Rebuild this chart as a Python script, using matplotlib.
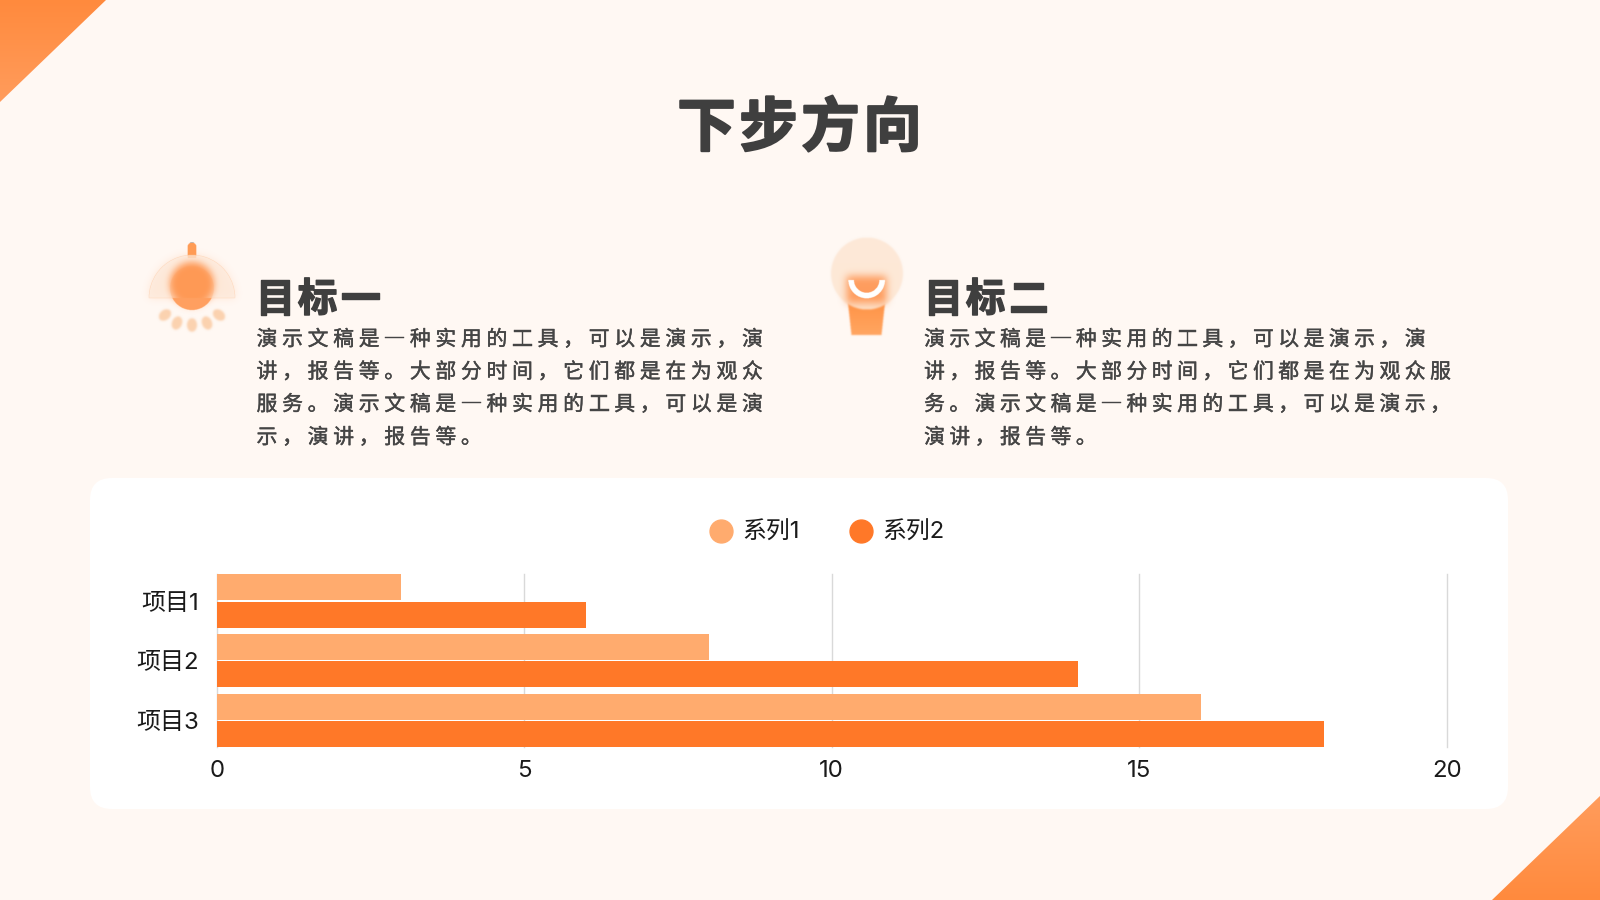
import numpy as np
import matplotlib
matplotlib.use('Agg')
import matplotlib.pyplot as plt
import matplotlib.patheffects as pe
from matplotlib.lines import Line2D
from matplotlib.patches import FancyBboxPatch, Polygon

plt.rcParams['font.family'] = ['Noto Sans CJK SC', 'DejaVu Sans']

# datos del grafico
categories = ['项目1', '项目2', '项目3']
series1 = [3, 8, 16]
series2 = [6, 14, 18]
series_names = ['系列1', '系列2']
x_ticks = [0, 5, 10, 15, 20]

title = '下步方向'
head1 = '目标一'
head2 = '目标二'
lines1 = ['演示文稿是一种实用的工具，可以是演示，演',
          '讲，报告等。大部分时间，它们都是在为观众',
          '服务。演示文稿是一种实用的工具，可以是演',
          '示，演讲，报告等。']
lines2 = ['演示文稿是一种实用的工具，可以是演示，演',
          '讲，报告等。大部分时间，它们都是在为观众服',
          '务。演示文稿是一种实用的工具，可以是演示，',
          '演讲，报告等。']

BG = '#FFF8F3'
C1 = '#FFAB6E'
C2 = '#FF7828'
DARK = '#3F3F3F'
TEXT = '#454545'
CHART_FONT = ['Inter', 'Noto Sans CJK SC']

fig = plt.figure(figsize=(16, 9), dpi=100, facecolor=BG)
bg = fig.add_axes([0, 0, 1, 1], zorder=0)
bg.set_axis_off()


def spaced(x, y, s, pitch, stroke=0.0, **kw):
    # texto con espaciado fijo entre caracteres
    for i, ch in enumerate(s):
        t = bg.text(x + i * pitch, y, ch, ha='center', va='center', **kw)
        if stroke:
            t.set_path_effects([pe.withStroke(linewidth=stroke, foreground=kw['color'])])


def corner(pts, c_a, c_b):
    grad = np.linspace(0, 1, 128).reshape(-1, 1)
    col = np.array(matplotlib.colors.to_rgb(c_a)) * (1 - grad[..., None]) + np.array(matplotlib.colors.to_rgb(c_b)) * grad[..., None]
    xs = [p[0] for p in pts]
    ys = [p[1] for p in pts]
    im = bg.imshow(col, extent=(min(xs), max(xs), max(ys), min(ys)), aspect='auto', zorder=1)
    poly = Polygon(pts, closed=True, transform=bg.transData, fc='none', ec='none')
    bg.add_patch(poly)
    im.set_clip_path(poly)


def blur(a, sigma):
    r = int(3 * sigma) + 1
    k = np.exp(-np.arange(-r, r + 1) ** 2 / (2 * sigma ** 2))
    k = k / k.sum()
    a = np.apply_along_axis(lambda v: np.convolve(v, k, mode='same'), 0, a)
    a = np.apply_along_axis(lambda v: np.convolve(v, k, mode='same'), 1, a)
    return a


class Icon:
    def __init__(self, x0, y0, x1, y1, ss=3):
        self.ext = (x0, x1, y1, y0)
        self.ss = ss
        w, h = (x1 - x0) * ss, (y1 - y0) * ss
        self.X, self.Y = np.meshgrid(x0 + (np.arange(w) + .5) / ss, y0 + (np.arange(h) + .5) / ss)
        self.rgb = np.ones((h, w, 3))
        self.alpha = np.zeros((h, w))

    def add(self, mask, color, opacity=1.0, sigma=0):
        m = np.clip(mask.astype(float), 0, 1)
        if sigma:
            m = blur(m, sigma * self.ss)
        m = m * opacity
        c = np.array(matplotlib.colors.to_rgb(color)).reshape(1, 1, 3) if isinstance(color, str) else color
        out = m + self.alpha * (1 - m)
        safe = np.where(out > 0, out, 1)
        self.rgb = (c * m[..., None] + self.rgb * (self.alpha * (1 - m))[..., None]) / safe[..., None]
        self.alpha = out

    def draw(self):
        img = np.dstack([self.rgb, self.alpha])
        bg.imshow(img, extent=self.ext, aspect='auto', zorder=2, interpolation='bilinear')


# fondo y esquinas
corner([(0, 0), (106, 0), (0, 102)], '#FF8A3D', '#FF9C5C')
corner([(1600, 796), (1600, 900), (1492, 900)], '#FF9C5C', '#FF8A3D')

card = FancyBboxPatch((90, 478), 1418, 331, boxstyle='round,pad=0,rounding_size=22', fc='white', ec='none', zorder=1)
bg.add_patch(card)

# icono lampara
ic = Icon(135, 230, 250, 345)
X, Y = ic.X, ic.Y
dome = (np.hypot(X - 192, Y - 298) < 43) & (Y < 298)
ic.add(dome, '#FF9A55', 0.2, sigma=4)
stem = ((np.abs(X - 192) < 4.5) & (Y > 247) & (Y < 258)) | (np.hypot(X - 192, Y - 247) < 4.5)
ic.add(stem, '#FF9C55')
ic.add(np.hypot(X - 192, Y - 288) < 22, '#FF9A55')
ic.add(dome, '#FDEBDC', 0.75)
ic.add(np.hypot(X - 192, Y - 284) < 22, '#FF9650', 0.95, sigma=3.5)
ic.add((np.hypot(X - 192, Y - 288) < 22) & (Y > 298), '#FFA060')
for dx, dy, rot in [(165, 315, 0.9), (177, 323, 0.4), (192, 325, 0.0), (207, 323, -0.4), (219, 315, -0.9)]:
    u = (X - dx) * np.cos(rot) + (Y - dy) * np.sin(rot)
    v = -(X - dx) * np.sin(rot) + (Y - dy) * np.cos(rot)
    ic.add((u / 5.0) ** 2 + (v / 6.8) ** 2 < 1, '#FBD0AC', 0.95, sigma=1.0)
ic.draw()

# icono bombilla
ic = Icon(820, 230, 915, 345)
X, Y = ic.X, ic.Y
t = np.clip((Y - 303) / 32, 0, 1)
width = 18.5 - 3.5 * t
base = (np.abs(X - 866.5) < width) & (Y > 295) & (Y < 335)
ic.add(base, np.dstack([np.full_like(Y, 1.0), 0.58 + 0.07 * t, 0.28 + 0.1 * t]), sigma=0.7)
ic.add(np.hypot(X - 867, Y - 273.5) < 36, '#FDE8D5', 0.92, sigma=0.8)
ic.add((np.abs(X - 866.5) < 20) & (Y > 276) & (Y < 303), '#FF9450', 0.9, sigma=4)
R = np.hypot(X - 866.7, Y - 280)
ic.add((np.abs(R - 15.5) < 2.8) & (Y > 280), '#FFFFFF')
ic.draw()

# textos
spaced(706.5, 129, title, 62, stroke=1.6, fontsize=42, fontweight='black', color=DARK)
spaced(275, 300, head1, 42.6, stroke=1.0, fontsize=28.5, fontweight='bold', color=DARK)
spaced(943, 300, head2, 42.6, stroke=1.0, fontsize=28.5, fontweight='bold', color=DARK)
line_y = [339.5, 372, 404.5, 437.5]
for y, s in zip(line_y, lines1):
    spaced(267, y, s, 25.55, stroke=0.3, fontsize=15, fontweight='medium', color=TEXT)
for y, s in zip(line_y, lines2):
    spaced(934.5, y, s, 25.3, stroke=0.3, fontsize=15, fontweight='medium', color=TEXT)

bg.set_xlim(0, 1600)
bg.set_ylim(900, 0)

# grafico de barras
ax = fig.add_axes([216.7 / 1600, (900 - 747.3) / 900, 1230 / 1600, 173 / 900], zorder=3)
ax.patch.set_alpha(0)
y = np.arange(len(categories))
ax.barh(y - 0.2275, series1, height=0.435, color=C1, zorder=3)
ax.barh(y + 0.2275, series2, height=0.435, color=C2, zorder=3)
ax.set_xlim(0, 20)
ax.set_ylim(2.447, -0.447)
ax.set_xticks(x_ticks)
ax.set_yticks(y, categories)
ax.grid(axis='x', color='#D9D9D9', linewidth=1, zorder=0)
ax.set_axisbelow(True)
for g in ax.xaxis.get_gridlines():
    g.set_clip_on(False)
for s in ax.spines.values():
    s.set_visible(False)
ax.tick_params(axis='both', length=0, labelsize=17.3, labelcolor='#1A1A1A')
ax.tick_params(axis='y', pad=13)
ax.tick_params(axis='x', pad=9)
for lab in ax.get_xticklabels() + ax.get_yticklabels():
    lab.set_family(CHART_FONT)

handles = [Line2D([], [], marker='o', ls='', ms=16.5, color=c) for c in (C1, C2)]
fig.legend(handles, series_names, loc='center', bbox_to_anchor=(821 / 1600, 1 - 533 / 900),
           ncol=2, frameon=False, prop={'family': CHART_FONT, 'size': 17.2}, labelcolor='#1A1A1A',
           handletextpad=-0.1, columnspacing=1.55)

fig.savefig('out.png', dpi=100, facecolor=BG)
